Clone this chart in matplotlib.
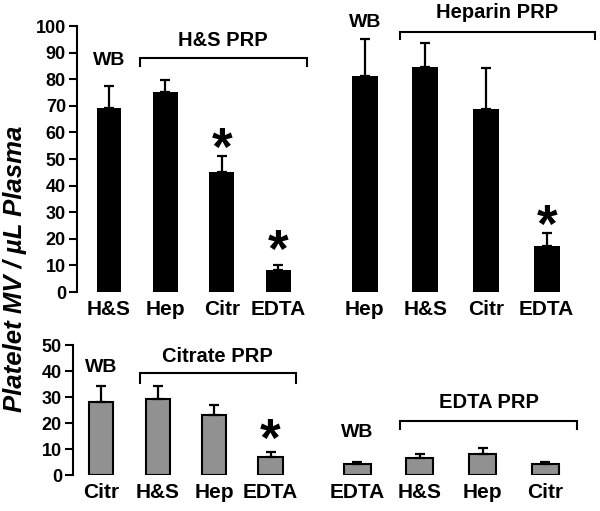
import matplotlib
matplotlib.use("Agg")
import matplotlib.pyplot as plt

plt.rcParams['font.family'] = ['Liberation Sans', 'DejaVu Sans']
plt.rcParams['font.weight'] = 'bold'

# DATA
hs_labels = ["H&S", "Hep", "Citr", "EDTA"]
hs_values = [69.2, 75.2, 45.1, 8.4]
hs_errors = [8.3, 4.6, 6.0, 1.6]
hs_star = [False, False, True, True]

hep_labels = ["Hep", "H&S", "Citr", "EDTA"]
hep_values = [81.2, 84.6, 68.8, 17.3]
hep_errors = [13.8, 9.0, 15.4, 4.9]
hep_star = [False, False, False, True]

cit_labels = ["Citr", "H&S", "Hep", "EDTA"]
cit_values = [28.2, 29.3, 23.1, 7.1]
cit_errors = [6.0, 4.9, 4.0, 1.7]
cit_star = [False, False, False, True]

edta_labels = ["EDTA", "H&S", "Hep", "Citr"]
edta_values = [4.1, 6.4, 8.1, 4.1]
edta_errors = [0.9, 1.6, 2.3, 0.9]
edta_star = [False, False, False, False]

W, H = 600, 511
fig = plt.figure(figsize=(W / 100, H / 100), dpi=100)


def px_axes(left, top, right, bottom):
    return fig.add_axes([left / W, (H - bottom) / H, (right - left) / W, (bottom - top) / H])


def panel(ax, labels, values, errors, stars, color, ymax, width, show_y, ticks,
          group, bracket, text_y, wb_y, star_y):
    x = list(range(len(values)))
    ax.bar(x, values, width=width, color=color,
           edgecolor='black', linewidth=1.5 if color != 'black' else 0)
    ax.errorbar(x, values, yerr=[[0] * len(errors), errors], fmt='none',
                ecolor='black', elinewidth=1.6, capsize=3.5, capthick=1.6)
    ax.set_ylim(0, ymax)
    ax.set_xticks(x)
    ax.set_xticklabels(labels, fontsize=15, fontweight='bold')
    ax.tick_params(axis='x', length=0, pad=6)
    for s in ['top', 'right', 'bottom']:
        ax.spines[s].set_visible(False)
    if show_y:
        ax.set_yticks(ticks)
        ax.tick_params(axis='y', length=6, width=1.5, labelsize=13, pad=2)
        ax.spines['left'].set_linewidth(1.5)
        for t in ax.get_yticklabels():
            t.set_fontweight('bold')
    else:
        ax.spines['left'].set_visible(False)
        ax.set_yticks([])
    # bracket over PRP group
    x0, x1, yb, ye = bracket
    ax.plot([x0, x0, x1, x1], [ye, yb, yb, ye], color='black', lw=1.5,
            clip_on=False, solid_joinstyle='miter')
    ax.text((x0 + x1) / 2, text_y, group, ha='center', va='center',
            fontsize=14.5, fontweight='bold', clip_on=False)
    ax.text(0, wb_y, "WB", ha='center', va='center', fontsize=14,
            fontweight='bold', clip_on=False)
    for i, st in enumerate(stars):
        if st:
            ax.text(i, star_y[i], "*", ha='center', va='center', fontsize=38,
                    fontweight='bold', clip_on=False)


# top left: H&S PRP
ax1 = px_axes(77, 26, 310, 292)
ax1.set_xlim(-0.566, 3.56)
panel(ax1, hs_labels, hs_values, hs_errors, hs_star, 'black', 100, 0.44, True,
      range(0, 101, 10), "H&S PRP", (0.55, 3.5, 88.0, 85.0), 94.7, 87.2,
      [0, 0, 53.2, 14.7])

# top right: Heparin PRP
ax2 = px_axes(320, 26, 600, 292)
ax2.set_xlim(-0.74, 3.88)
panel(ax2, hep_labels, hep_values, hep_errors, hep_star, 'black', 100, 0.43, False,
      [], "Heparin PRP", (0.58, 3.8, 97.7, 95.3), 104.9, 101.5,
      [0, 0, 0, 24.1])

# bottom left: Citrate PRP
ax3 = px_axes(73, 345, 310, 475)
ax3.set_xlim(-0.5, 3.7)
panel(ax3, cit_labels, cit_values, cit_errors, cit_star, '#919191', 50, 0.43, True,
      range(0, 51, 10), "Citrate PRP", (0.68, 3.45, 39.2, 35.4), 45.4, 41.2,
      [0, 0, 0, 12.7])

# bottom right: EDTA PRP
ax4 = px_axes(320, 345, 600, 475)
ax4.set_xlim(-0.59, 3.87)
panel(ax4, edta_labels, edta_values, edta_errors, edta_star, '#919191', 50, 0.43, False,
      [], "EDTA PRP", (0.69, 3.5, 20.8, 17.7), 27.7, 16.5,
      [0, 0, 0, 0])

fig.text(15 / W, 1 - 269 / H, "Platelet MV / \u00b5L Plasma", rotation=90,
         ha='center', va='center', fontsize=18.5, fontweight='bold', style='italic')

fig.savefig("out.png", dpi=100)
